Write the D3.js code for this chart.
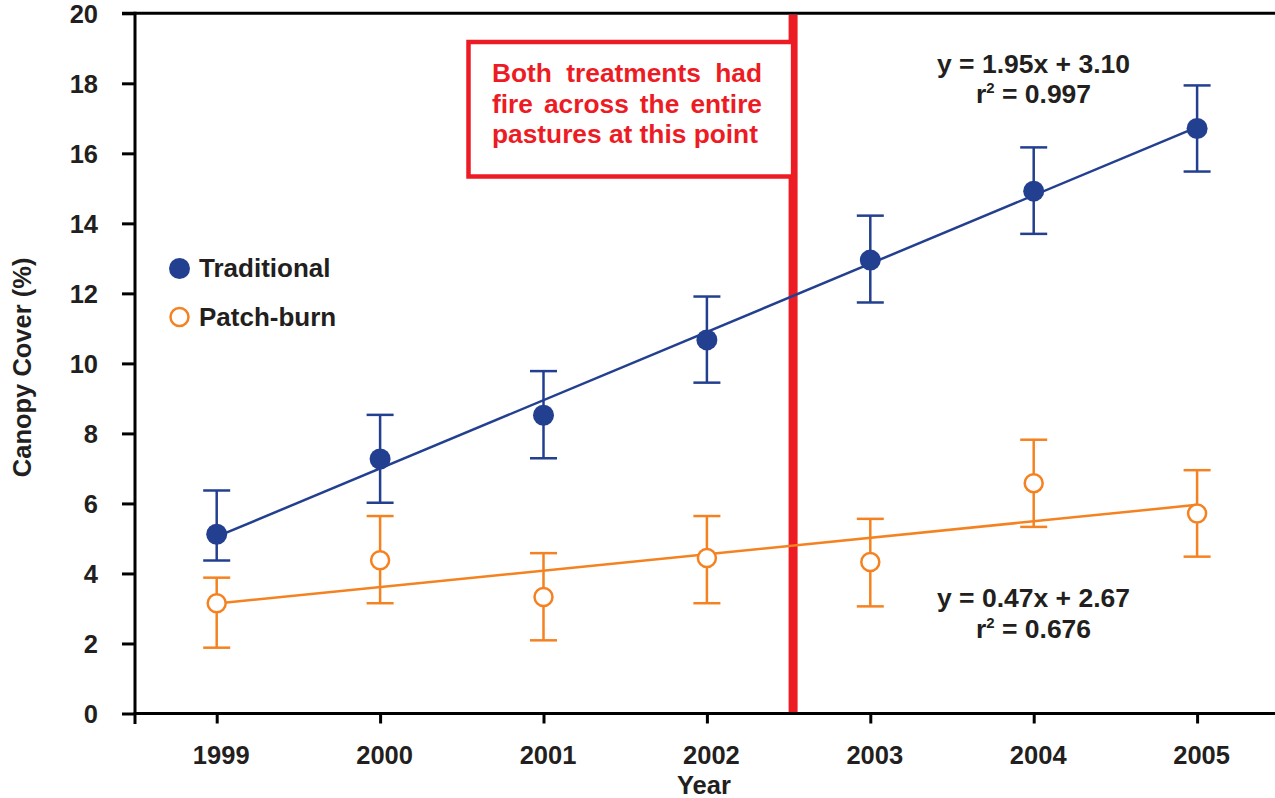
<!DOCTYPE html>
<html>
<head>
<meta charset="utf-8">
<script src="https://cdn.jsdelivr.net/npm/d3@7"></script>
<style>
  html, body { margin: 0; padding: 0; background: #fff; }
  svg { display: block; font-family: "Liberation Sans", Arial, Helvetica, sans-serif; }
</style>
</head>
<body>
<svg id="chart" width="1275" height="798"></svg>
<script>
// ---------- data ----------
const years = [1999, 2000, 2001, 2002, 2003, 2004, 2005];
const yTicks = [0, 2, 4, 6, 8, 10, 12, 14, 16, 18, 20];

const tradMean  = [5.12, 7.27, 8.52, 10.67, 12.95, 14.92, 16.71];
const tradUpper = [6.37, 8.53, 9.78, 11.91, 14.22, 16.17, 17.94];
const tradLower = [4.37, 6.02, 7.29, 9.45, 11.74, 13.70, 15.48];

const patchMean  = [3.15, 4.38, 3.33, 4.44, 4.33, 6.58, 5.71];
const patchUpper = [3.88, 5.64, 4.58, 5.64, 5.56, 7.82, 6.95];
const patchLower = [1.88, 3.15, 2.09, 3.15, 3.06, 5.33, 4.48];

const tradFit  = [1.95, 3.10];   // slope, intercept (x = 1..7)
const patchFit = [0.47, 2.67];

const fireYear = 2002.5;
const seriesNames = ["Traditional", "Patch-burn"];
const tradEq  = ["y = 1.95x + 3.10", "0.997"];
const patchEq = ["y = 0.47x + 2.67", "0.676"];
const noteLines = ["Both treatments had", "fire across the entire", "pastures at this point"];

// ---------- styles ----------
const BLUE = "#233f8f", ORANGE = "#f58220", RED = "#ed1c24", INK = "#231f20";

const svg = d3.select("#chart");
const x = d3.scaleLinear().domain([1998.5, 2005.5]).range([135, 1278.8]);
const y = d3.scaleLinear().domain([0, 20]).range([713.5, 13.3]);

// top frame line
svg.append("line").attr("x1", 122).attr("x2", 1275)
  .attr("y1", y(20)).attr("y2", y(20))
  .attr("stroke", "#000").attr("stroke-width", 3);

// y axis
const yAxis = d3.axisLeft(y).tickValues(yTicks).tickSize(13).tickPadding(24).tickSizeOuter(0);
const gy = svg.append("g").attr("transform", `translate(${x(1998.5)},0)`).call(yAxis);
gy.select(".domain").remove();
gy.selectAll(".tick line").attr("stroke", "#000").attr("stroke-width", 3);
gy.selectAll(".tick text").attr("fill", INK).attr("font-size", 25.5).attr("font-weight", "bold")
  .attr("dy", "0.36em");
svg.append("line").attr("x1", x(1998.5)).attr("x2", x(1998.5))
  .attr("y1", y(20) - 1.5).attr("y2", y(0) + 10.5)
  .attr("stroke", "#000").attr("stroke-width", 3);

// x axis
const xAxis = d3.axisBottom(x).tickValues(years).tickFormat(d3.format("d"))
  .tickSize(10).tickPadding(22).tickSizeOuter(0);
const gx = svg.append("g").attr("transform", `translate(0,${y(0)})`).call(xAxis);
gx.select(".domain").remove();
gx.selectAll(".tick line").attr("stroke", "#000").attr("stroke-width", 3);
gx.selectAll(".tick text").attr("fill", INK).attr("font-size", 25.5).attr("font-weight", "bold")
  .attr("dx", 4);
svg.append("line").attr("x1", x(1998.5) - 1.5).attr("x2", 1275)
  .attr("y1", y(0)).attr("y2", y(0))
  .attr("stroke", "#000").attr("stroke-width", 3);

// axis titles
svg.append("text").attr("x", x(2002) - 3).attr("y", 794).attr("text-anchor", "middle")
  .attr("font-size", 25.5).attr("font-weight", "bold").attr("fill", INK).text("Year");
svg.append("text").attr("transform", `translate(31,${(y(0) + y(20)) / 2 + 4}) rotate(-90)`)
  .attr("text-anchor", "middle").attr("font-size", 25.5).attr("font-weight", "bold")
  .attr("fill", INK).text("Canopy Cover (%)");

// fire line
const fx = x(fireYear) + 4.5;
svg.append("line").attr("x1", fx).attr("x2", fx).attr("y1", y(20) + 1.5).attr("y2", y(0) - 1.5)
  .attr("stroke", RED).attr("stroke-width", 9);

// note box
const boxL = 468.5, boxT = 42, boxB = 176.5;
svg.append("rect").attr("x", boxL).attr("y", boxT).attr("width", fx - boxL).attr("height", boxB - boxT)
  .attr("fill", "#fff").attr("stroke", RED).attr("stroke-width", 4.5);
const noteG = svg.append("g").attr("fill", RED).attr("font-size", 26.3).attr("font-weight", "bold");
const textL = 492, textR = 762;
noteLines.forEach((line, i) => {
  const yy = 82 + i * 30.5;
  const words = line.split(" ");
  if (i === noteLines.length - 1) {
    noteG.append("text").attr("x", textL).attr("y", yy).text(line);
    return;
  }
  const tmp = words.map(w => noteG.append("text").attr("y", yy).text(w));
  const widths = tmp.map(t => t.node().getComputedTextLength());
  const total = d3.sum(widths);
  const gap = (textR - textL - total) / (words.length - 1);
  let cx = textL;
  tmp.forEach((t, k) => { t.attr("x", cx); cx += widths[k] + gap; });
});

// series drawing
function drawSeries(mean, upper, lower, fit, color, filled) {
  const g = svg.append("g");
  g.append("line")
    .attr("x1", x(years[0])).attr("y1", y(fit[0] * 1 + fit[1]))
    .attr("x2", x(years[years.length - 1])).attr("y2", y(fit[0] * years.length + fit[1]))
    .attr("stroke", color).attr("stroke-width", 2.5);
  years.forEach((yr, i) => {
    const cx = x(yr);
    g.append("line").attr("x1", cx).attr("x2", cx).attr("y1", y(upper[i])).attr("y2", y(lower[i]))
      .attr("stroke", color).attr("stroke-width", 2.5);
    [upper[i], lower[i]].forEach(v => {
      g.append("line").attr("x1", cx - 13.5).attr("x2", cx + 13.5).attr("y1", y(v)).attr("y2", y(v))
        .attr("stroke", color).attr("stroke-width", 2.5);
    });
  });
  g.selectAll("circle").data(mean).join("circle")
    .attr("cx", (d, i) => x(years[i])).attr("cy", d => y(d))
    .attr("r", filled ? 10.5 : 9)
    .attr("fill", filled ? color : "#fff")
    .attr("stroke", color).attr("stroke-width", filled ? 0 : 2.5);
}
drawSeries(patchMean, patchUpper, patchLower, patchFit, ORANGE, false);
drawSeries(tradMean, tradUpper, tradLower, tradFit, BLUE, true);

// legend
const leg = svg.append("g");
leg.append("circle").attr("cx", 179.5).attr("cy", 268.5).attr("r", 10.5).attr("fill", BLUE);
leg.append("circle").attr("cx", 179.5).attr("cy", 317).attr("r", 9).attr("fill", "#fff")
  .attr("stroke", ORANGE).attr("stroke-width", 2.5);
leg.append("text").attr("x", 199).attr("y", 277).attr("font-size", 26).attr("font-weight", "bold")
  .attr("fill", INK).text(seriesNames[0]);
leg.append("text").attr("x", 199).attr("y", 326).attr("font-size", 26).attr("font-weight", "bold")
  .attr("fill", INK).text(seriesNames[1]);

// equations
function eq(lines, cx, y1) {
  const g = svg.append("g").attr("fill", INK).attr("font-weight", "bold").attr("font-size", 26.5)
    .attr("text-anchor", "middle");
  g.append("text").attr("x", cx).attr("y", y1).text(lines[0]);
  const t = g.append("text").attr("x", cx).attr("y", y1 + 30.5);
  t.append("tspan").text("r");
  t.append("tspan").attr("font-size", 15).attr("dy", -10).text("2");
  t.append("tspan").attr("dy", 10).text(" = " + lines[1]);
}
eq(tradEq, 1033.5, 72.5);
eq(patchEq, 1033.5, 607);
</script>
</body>
</html>
